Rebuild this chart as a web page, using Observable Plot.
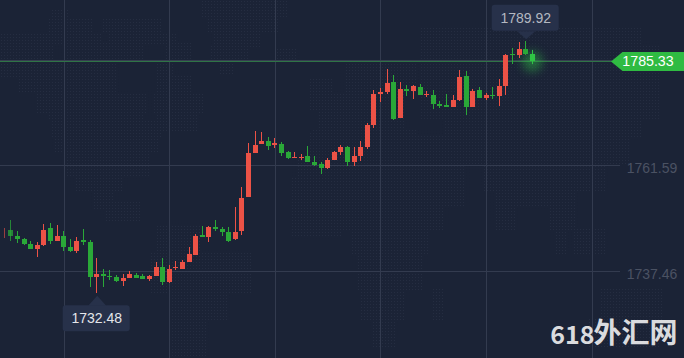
<!DOCTYPE html>
<html><head><meta charset="utf-8">
<script src="https://cdn.jsdelivr.net/npm/d3@7"></script>
<script src="https://cdn.jsdelivr.net/npm/@observablehq/plot@0.6"></script>
<style>html,body{margin:0;padding:0;background:#1b2336;overflow:hidden}svg{display:block}</style>
</head><body><script>
const highs=[1747.32,1749.14,1746.63,1745.04,1744.36,1744.13,1748.23,1748.45,1748.00,1746.63,1744.81,1745.27,1747.09,1744.58,1740.49,1737.98,1737.76,1736.62,1736.85,1737.53,1737.07,1736.85,1736.62,1739.58,1740.49,1738.90,1739.81,1740.03,1742.99,1745.95,1747.77,1747.77,1749.14,1747.55,1747.55,1752.10,1756.65,1766.67,1769.40,1769.17,1768.03,1767.80,1766.89,1764.85,1764.62,1764.16,1765.98,1763.71,1762.34,1763.25,1764.85,1766.21,1765.98,1765.76,1767.12,1771.22,1778.73,1779.19,1783.51,1782.15,1780.55,1779.87,1779.87,1780.10,1778.50,1778.73,1776.23,1777.82,1777.59,1783.29,1783.06,1778.96,1779.42,1778.05,1779.42,1781.24,1786.93,1788.29,1789.66,1789.92,1787.84];
const lows=[1745.04,1744.36,1743.90,1743.45,1742.54,1740.72,1743.22,1743.68,1744.36,1742.08,1741.86,1741.63,1743.45,1733.89,1732.48,1733.89,1735.48,1735.03,1734.12,1735.94,1735.94,1735.71,1735.25,1736.39,1734.34,1734.80,1737.76,1737.98,1739.58,1741.17,1745.27,1744.13,1746.63,1745.50,1744.13,1744.58,1745.72,1754.38,1764.39,1766.44,1765.07,1765.53,1763.71,1763.03,1763.25,1762.80,1762.34,1761.43,1759.61,1760.75,1762.80,1763.94,1761.43,1761.43,1762.57,1765.30,1770.08,1776.00,1777.82,1771.90,1772.36,1777.37,1776.68,1777.59,1777.14,1774.41,1774.63,1774.86,1774.86,1776.23,1773.04,1774.86,1776.91,1776.46,1776.68,1775.09,1777.59,1784.65,1786.02,1786.70,1784.65];
const opens=[1746.34,1746.86,1745.50,1744.81,1743.68,1742.54,1743.45,1747.32,1744.36,1745.50,1742.99,1742.08,1744.58,1744.13,1736.16,1736.85,1736.39,1736.16,1735.25,1735.94,1736.62,1736.39,1735.71,1736.39,1738.44,1735.03,1738.21,1737.98,1739.58,1741.17,1745.72,1745.27,1747.55,1747.09,1746.41,1744.81,1746.63,1754.38,1764.39,1766.44,1767.12,1766.21,1766.44,1764.62,1763.25,1763.25,1763.71,1762.34,1761.89,1760.98,1762.80,1764.62,1765.76,1762.34,1763.71,1765.76,1770.77,1777.82,1778.28,1780.55,1772.36,1778.96,1778.50,1779.42,1777.59,1777.59,1775.55,1775.32,1774.86,1776.46,1781.92,1774.86,1778.73,1776.91,1777.59,1777.37,1779.64,1786.93,1786.70,1788.07,1786.93];
const closes=[1746.48,1745.50,1744.81,1743.68,1742.54,1743.45,1746.86,1744.36,1745.50,1742.99,1742.08,1744.36,1744.13,1736.16,1736.85,1736.39,1736.16,1735.25,1735.94,1736.85,1735.94,1735.71,1736.39,1738.44,1735.03,1737.98,1738.44,1739.58,1741.40,1745.50,1745.27,1747.55,1747.09,1746.41,1744.36,1746.41,1754.15,1764.39,1766.21,1767.12,1765.98,1766.67,1764.39,1763.25,1763.48,1763.48,1762.34,1761.66,1760.98,1762.80,1764.62,1765.76,1762.34,1763.71,1765.76,1770.77,1777.82,1778.28,1780.33,1772.13,1778.96,1778.50,1779.64,1777.59,1777.82,1775.55,1775.09,1774.86,1776.46,1781.69,1774.86,1778.50,1776.91,1777.59,1777.37,1779.64,1786.70,1786.70,1788.07,1786.93,1785.33];
const gridIndex=[9,25,41,57,73,89];
const priceTicks=[1761.59,1737.46];
const lastPrice=1785.33, extremeLow=1732.48, extremeHigh=1789.92;
const mapPatches=[[53,67,10,20],[50,93,20,33],[103,160,20,33],[0,70,33,43],[73,100,33,43],[110,175,33,43],[0,53,43,60],[67,143,43,60],[167,190,43,60],[0,117,60,77],[157,173,60,77],[20,117,77,93],[157,190,77,93],[37,147,93,113],[153,203,93,113],[50,143,113,120],[157,197,113,130],[52,160,120,137],[55,157,137,153],[68,150,153,175],[75,123,175,190],[93,113,190,210],[107,140,203,220],[157,200,227,253],[150,250,253,293],[170,227,293,320],[170,207,320,358],[203,287,0,17],[207,277,17,33],[213,260,33,47],[210,247,47,60],[220,233,60,73],[277,297,50,60],[310,333,80,110],[320,342,110,133],[310,342,133,177],[293,342,177,237],[345,415,60,93],[328,405,93,127],[312,415,130,160],[298,465,160,190],[420,640,27,47],[420,660,47,120],[445,642,120,137],[389,629,137,163],[485,605,163,190],[342,465,190,207],[495,575,190,207],[342,442,207,230],[495,515,207,230],[549,575,207,230],[352,429,230,253],[555,565,230,253],[575,605,230,253],[359,422,253,290],[362,405,290,320],[432,442,290,320],[602,662,290,320],[372,395,320,347],[589,659,320,347]];

const W=684,H=358,step=6.6,x0=3.8,pp=0.22764,yTop=1799.22;
const ix=px=>(px-x0)/step, pr=py=>yTop-py*pp;
const candles=opens.map((o,i)=>({i,o,c:closes[i],h:highs[i],l:lows[i],up:closes[i]>=o,last:i===opens.length-1,fade:i===0?0.6:i===1?0.75:1}));
const colorOf=d=>d.last?"#2fc445":d.up?"#ec5246":"#2aa838";
const seen=new Set(),mapDots=[];
for(const [a,b,c,e] of mapPatches){for(let x=Math.floor(a/3)*3;x<b;x+=3)for(let y=Math.floor(c/3)*3;y<e;y+=3){const k=x+"|"+y;if(!seen.has(k)){seen.add(k);mapDots.push({x:ix(x+1),y:pr(y+1)});}}}
const lowI=lows.indexOf(extremeLow),highI=highs.indexOf(extremeHigh);
const tipW=33.5/step, dx=1/step, cx=0.5*dx;
const tips=[
 {i:lowI,value:extremeLow,x1:lowI-tipW,x2:lowI+tipW,y1:extremeLow-12*pp,y2:extremeLow-38*pp,ty:extremeLow-25*pp,fill:"#e4e6ea",
  tri:[[lowI-9*dx,extremeLow-12*pp],[lowI,extremeLow-2*pp],[lowI+9*dx,extremeLow-12*pp]]},
 {i:highI,value:extremeHigh,x1:highI-tipW,x2:highI+tipW,y1:extremeHigh+10*pp,y2:extremeHigh+36*pp,ty:extremeHigh+23*pp,fill:"#b4b8c1",
  tri:[[highI-9*dx,extremeHigh+10*pp],[highI,extremeHigh+2*pp],[highI+9*dx,extremeHigh+10*pp]]}
];
const tag=[[ix(610.5),lastPrice],[ix(622),lastPrice+9.5*pp],[ix(684),lastPrice+9.5*pp],[ix(684),lastPrice-9.5*pp],[ix(622),lastPrice-9.5*pp]];
const font="'Liberation Sans',Arial,sans-serif";
const gridStroke="#333b4f";
const crisp={shapeRendering:"crispEdges"};

const chart=Plot.plot({
 width:W,height:H,margin:0,
 style:{background:"#1b2336",fontFamily:font},
 x:{domain:[ix(0),ix(W)],axis:null},
 y:{domain:[pr(H),pr(0)],axis:null},
 marks:[
  Plot.dot(mapDots,{x:"x",y:"y",symbol:"square",r:1.1,fill:"#252d41",stroke:"none",...crisp}),
  Plot.ruleX(gridIndex,{x:d=>d+0.07,stroke:gridStroke,strokeWidth:1,...crisp}),
  Plot.ruleY(priceTicks,{x1:ix(0),x2:ix(620),stroke:gridStroke,strokeWidth:1,...crisp}),
  Plot.ruleY([pr(60)],{x1:ix(0),x2:ix(612),stroke:"#363e50",strokeWidth:1,...crisp}),
  Plot.ruleY([lastPrice],{x1:ix(0),x2:ix(612),stroke:"#2f7446",strokeWidth:1,...crisp}),
  Plot.dot([candles[candles.length-1]],{x:"i",y:lastPrice,r:10,fill:"#2fc445",fillOpacity:0.45,stroke:"none",imageFilter:"blur(5px)"}),
  Plot.ruleX(candles,{x:"i",y1:"l",y2:"h",stroke:colorOf,strokeOpacity:"fade",strokeWidth:1,...crisp}),
  Plot.rect(candles,{x1:d=>d.i-2/step,x2:d=>d.i+3/step,y1:d=>Math.min(d.o,d.c),y2:d=>Math.max(d.o,d.c),fill:colorOf,fillOpacity:"fade",...crisp}),
  Plot.rect(tips,{x1:"x1",x2:"x2",y1:"y1",y2:"y2",fill:"#27314a",rx:3}),
  ...tips.map(t=>Plot.line(t.tri,{x:d=>d[0]+cx,y:d=>d[1],fill:"#27314a",stroke:"none"})),
  Plot.text(tips,{x:"i",y:"ty",text:d=>d.value.toFixed(2),fill:"fill",fontSize:14,fontFamily:font,textAnchor:"middle",lineAnchor:"middle"}),
  Plot.line(tag,{x:d=>d[0],y:d=>d[1],fill:"#2fbb42",stroke:"none"}),
  Plot.text([lastPrice],{x:ix(647.5),y:lastPrice,text:d=>d.toFixed(2),fill:"#ffffff",fontSize:14.2,fontFamily:font,textAnchor:"middle",lineAnchor:"middle"}),
  Plot.text(priceTicks,{x:ix(651.5),y:d=>d-0.6,text:d=>d.toFixed(2),fill:"#4b5263",fontSize:14,fontFamily:font,textAnchor:"middle",lineAnchor:"middle"}),
  Plot.text(["618"],{x:ix(594),y:pr(335),fill:"#dadbde",fontSize:25,fontWeight:700,fontFamily:"'Noto Sans CJK SC',sans-serif",textAnchor:"end",lineAnchor:"middle"}),
  Plot.text(["外汇网"],{x:ix(677),y:pr(334),fill:"#dadbde",fontSize:28,fontWeight:700,fontFamily:"'Noto Sans CJK SC',sans-serif",textAnchor:"end",lineAnchor:"middle"})
 ]
});
document.body.appendChild(chart);
</script></body></html>
